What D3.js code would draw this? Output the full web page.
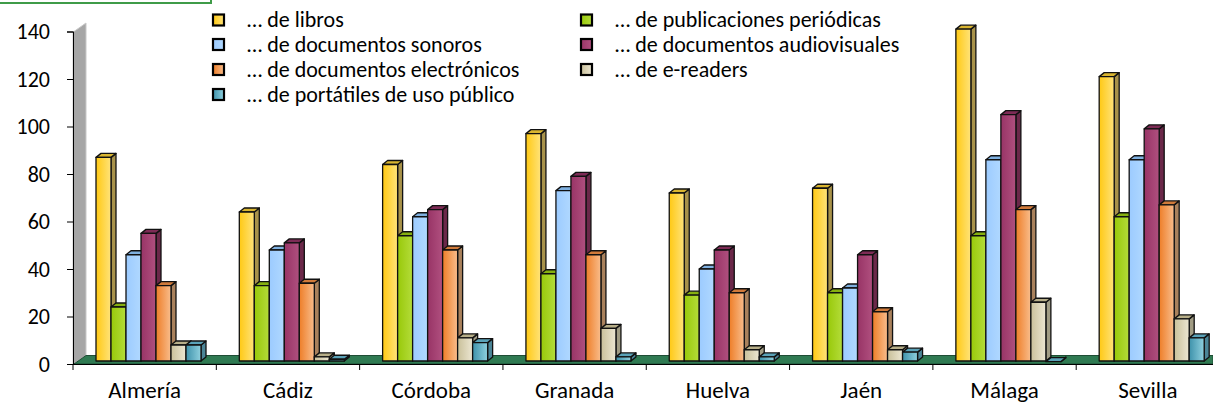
<!DOCTYPE html>
<html lang="es">
<head>
    <style>
        body { margin: 0; background: #fff; }
        text { font-family: Carlito, Lato, sans-serif; fill: #000; }
    </style>
    <script src="https://d3js.org/d3.v7.min.js"></script>
</head>
<body>
    <svg width="1213" height="408"></svg>
    <script>
        // datos
        var provincias = ["Almería", "Cádiz", "Córdoba", "Granada", "Huelva", "Jaén", "Málaga", "Sevilla"];
        var series = [
            "… de libros",
            "… de publicaciones periódicas",
            "… de documentos sonoros",
            "… de documentos audiovisuales",
            "… de documentos electrónicos",
            "… de e-readers",
            "… de portátiles de uso público"
        ];
        var libros        = [87, 64, 84, 97, 72, 74, 141, 121];
        var periodicas    = [24, 33, 54, 38, 29, 30, 54, 62];
        var sonoros       = [46, 48, 62, 73, 40, 32, 86, 86];
        var audiovisuales = [55, 51, 65, 79, 48, 46, 105, 99];
        var electronicos  = [33, 34, 48, 46, 30, 22, 65, 67];
        var ereaders      = [8, 3, 11, 15, 6, 6, 26, 19];
        var portatiles    = [8, 2, 9, 3, 3, 5, 1, 11];
        var valores = [libros, periodicas, sonoros, audiovisuales, electronicos, ereaders, portatiles];
        var yTicks = [0, 20, 40, 60, 80, 100, 120, 140];

        // colores: [izquierda, derecha, lateral, tapa]
        var colores = [
            ["#ffc914", "#ffe37a", "#a8924a", "#d9b530"],
            ["#98c90a", "#b4dc3a", "#6f8a1e", "#86b010"],
            ["#9ccbff", "#b0d8ff", "#6b93bd", "#7fb0e0"],
            ["#983466", "#b0507f", "#6b2849", "#7d2b55"],
            ["#ee7e28", "#f9bd8c", "#a9815c", "#d07a3a"],
            ["#c9c09a", "#ece6d2", "#a19c84", "#b7ae88"],
            ["#3e92ab", "#8fd0de", "#4b8597", "#5aa2b8"]
        ];

        var svg = d3.select("svg");
        var defs = svg.append("defs");
        colores.forEach(function(c, i) {
            var g = defs.append("linearGradient").attr("id", "grad" + i)
                .attr("x1", 0).attr("x2", 1).attr("y1", 0).attr("y2", 0);
            g.append("stop").attr("offset", "0%").attr("stop-color", c[0]);
            g.append("stop").attr("offset", "100%").attr("stop-color", c[1]);
        });

        var x = d3.scaleBand().domain(provincias).range([73, 1219.5]);
        var y = d3.scaleLinear().domain([0, 140]).range([364, 31.5]);

        // caja del título (recortada)
        svg.append("rect")
            .attr("x", -3).attr("y", -20).attr("width", 214).attr("height", 23)
            .attr("fill", "#fff").attr("stroke", "#3f9b48").attr("stroke-width", 2);

        // pared y suelo
        var wd = 12, wh = 8.5;
        svg.append("path")
            .attr("d", "M74," + y(140) + "L" + (74 + wd) + "," + (y(140) - wh) +
                "L" + (74 + wd) + "," + (y(0) - wh) + "L74," + y(0) + "Z")
            .attr("fill", "#a6a6a6").attr("stroke", "#c8c8c8").attr("stroke-width", 1);
        svg.append("path")
            .attr("d", "M74," + y(0) + "L" + (74 + wd) + "," + (y(0) - wh) +
                "L1213," + (y(0) - wh) + "L1213," + y(0) + "Z")
            .attr("fill", "#2f7a52").attr("stroke", "#1f4d35").attr("stroke-width", 1);

        // ejes
        var yAxis = svg.append("g")
            .attr("transform", "translate(73,0)")
            .call(d3.axisLeft(y).tickValues(yTicks).tickSize(6).tickPadding(17));
        yAxis.select(".domain").attr("stroke", "#000").attr("stroke-width", 1.2);
        yAxis.selectAll("text").style("font-size", "22px").attr("fill", "#000");

        var xAxis = svg.append("g")
            .attr("transform", "translate(0," + y(0) + ")")
            .call(d3.axisBottom(x).tickSize(0).tickPadding(18));
        xAxis.select(".domain").attr("stroke", "#000").attr("stroke-width", 1.2);
        xAxis.selectAll("text").style("font-size", "23px").attr("fill", "#000");
        xAxis.selectAll(".sep")
            .data(provincias)
            .enter().append("line")
            .attr("class", "sep")
            .attr("x1", function(d) { return x(d); })
            .attr("x2", function(d) { return x(d); })
            .attr("y1", 0).attr("y2", 6)
            .attr("stroke", "#000");

        // barras 3D
        var dx = 5, dy = 4;
        var xs = d3.scaleBand().domain(d3.range(series.length)).range([0, 105]);
        var bw = xs.bandwidth();
        var base = y(0) - 3;
        var bars = svg.append("g");

        provincias.forEach(function(p, pi) {
            valores.forEach(function(vals, si) {
                var v = vals[pi];
                var x0 = x(p) + 23 + xs(si);
                var y0 = y(v);
                var c = colores[si];
                var g = bars.append("g")
                    .attr("stroke", "#111").attr("stroke-width", 1.3).attr("stroke-linejoin", "round");
                g.append("path")
                    .attr("d", "M" + (x0 + bw) + "," + y0 + "L" + (x0 + bw + dx) + "," + (y0 - dy) +
                        "L" + (x0 + bw + dx) + "," + (base - dy) + "L" + (x0 + bw) + "," + base + "Z")
                    .attr("fill", c[2]);
                g.append("path")
                    .attr("d", "M" + x0 + "," + y0 + "L" + (x0 + dx) + "," + (y0 - dy) +
                        "L" + (x0 + bw + dx) + "," + (y0 - dy) + "L" + (x0 + bw) + "," + y0 + "Z")
                    .attr("fill", c[3]);
                g.append("rect")
                    .attr("x", x0).attr("y", y0)
                    .attr("width", bw).attr("height", Math.max(0, base - y0))
                    .attr("fill", "url(#grad" + si + ")");
            });
        });

        // leyenda: dos columnas, por filas; la última queda en la izquierda
        var legX = [212, 580], legY = [20, 44.5, 69.5, 94.5];
        var leyenda = svg.append("g");
        series.forEach(function(s, i) {
            var col = i < 6 ? i % 2 : 0;
            var fila = i < 6 ? Math.floor(i / 2) : 3;
            var lx = legX[col], ly = legY[fila];
            leyenda.append("rect")
                .attr("x", lx + 1).attr("y", ly - 5.5).attr("width", 11).attr("height", 11)
                .attr("fill", "url(#grad" + i + ")")
                .attr("stroke", "#000").attr("stroke-width", 2.2);
            leyenda.append("text")
                .attr("x", lx + 35).attr("y", ly)
                .attr("dy", "0.33em")
                .style("font-size", "22px")
                .text(s);
        });
    </script>
</body>
</html>
